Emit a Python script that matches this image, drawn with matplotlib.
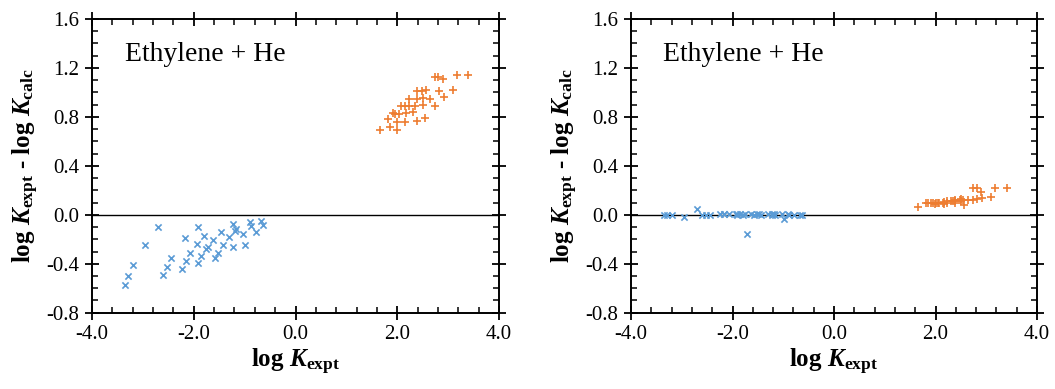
import matplotlib
matplotlib.use('Agg')
import matplotlib.pyplot as plt
from matplotlib.ticker import MultipleLocator, FormatStrFormatter

plt.rcParams['font.family'] = ['Liberation Serif', 'DejaVu Serif']
plt.rcParams['mathtext.fontset'] = 'custom'
plt.rcParams['mathtext.rm'] = 'Liberation Serif:bold'
plt.rcParams['mathtext.it'] = 'Liberation Serif:italic:bold'
plt.rcParams['mathtext.bf'] = 'Liberation Serif:bold'

# blue series (x markers): log K_expt, deviation before / after correction
blue_x = [-3.35, -3.29, -3.20, -2.96, -2.70, -2.60, -2.53, -2.45, -2.24, -2.17,
          -2.16, -2.07, -1.94, -1.91, -1.91, -1.85, -1.79, -1.75, -1.72, -1.63,
          -1.58, -1.52, -1.47, -1.43, -1.30, -1.22, -1.22, -1.19, -1.16, -1.03,
          -0.99, -0.90, -0.88, -0.78, -0.67, -0.63]
blue_left = [-0.57, -0.50, -0.41, -0.25, -0.10, -0.49, -0.43, -0.355, -0.445, -0.19,
             -0.38, -0.31, -0.235, -0.10, -0.39, -0.34, -0.17, -0.28, -0.26, -0.21,
             -0.355, -0.31, -0.14, -0.246, -0.18, -0.077, -0.26, -0.13, -0.12, -0.153,
             -0.25, -0.055, -0.09, -0.137, -0.049, -0.082]
blue_right = [0.0, 0.0, 0.0, -0.015, 0.045, -0.005, 0.0, -0.005, 0.01, 0.01,
              0.005, 0.01, 0.005, 0.005, 0.0, 0.005, 0.0, 0.005, -0.16, 0.005,
              0.0, 0.005, 0.005, 0.0, 0.005, 0.005, 0.0, 0.005, 0.0, 0.005,
              -0.035, 0.005, 0.0, 0.0, 0.0, 0.0]

# orange series (+ markers)
orange_x = [1.66, 1.82, 1.85, 1.91, 1.95, 1.99, 2.00, 2.04, 2.07, 2.15,
            2.16, 2.17, 2.23, 2.23, 2.31, 2.35, 2.38, 2.39, 2.39, 2.48,
            2.50, 2.51, 2.54, 2.57, 2.64, 2.74, 2.74, 2.81, 2.82, 2.89,
            2.92, 3.09, 3.18, 3.40]
orange_left = [0.694, 0.78, 0.716, 0.83, 0.825, 0.69, 0.757, 0.825, 0.893, 0.893,
               0.762, 0.83, 0.893, 0.948, 0.84, 0.885, 0.948, 0.77, 1.01, 1.01,
               0.90, 0.956, 0.79, 1.02, 0.948, 0.885, 1.125, 1.13, 1.008, 1.107,
               0.96, 1.016, 1.14, 1.14]
orange_right = [0.066, 0.10, 0.095, 0.10, 0.095, 0.09, 0.10, 0.095, 0.10, 0.10,
                0.09, 0.105, 0.11, 0.10, 0.11, 0.11, 0.115, 0.10, 0.12, 0.12,
                0.11, 0.13, 0.12, 0.08, 0.12, 0.12, 0.22, 0.22, 0.13, 0.19,
                0.14, 0.147, 0.22, 0.22]

label_text = 'Ethylene + He'
blue = '#5b9bd5'
orange = '#ed7d31'

W, H = 1055, 389
fig = plt.figure(figsize=(W / 100, H / 100), dpi=100)
ax1 = fig.add_axes([92 / W, (H - 312.7) / H, 407 / W, 293.7 / H])
ax2 = fig.add_axes([631 / W, (H - 312.7) / H, 406 / W, 293.7 / H])

for ax, yb, yo in [(ax1, blue_left, orange_left), (ax2, blue_right, orange_right)]:
    ax.axhline(0, color='black', lw=1.0, zorder=1)
    ax.scatter(blue_x, yb, marker='x', s=20, c=blue, linewidths=1.2, zorder=3)
    ax.scatter(orange_x, yo, marker='+', s=40, c=orange, linewidths=1.2, zorder=3)
    ax.set_xlim(-4, 4)
    ax.set_ylim(-0.8, 1.6)
    ax.xaxis.set_major_locator(MultipleLocator(2.0))
    ax.xaxis.set_minor_locator(MultipleLocator(0.4))
    ax.yaxis.set_major_locator(MultipleLocator(0.4))
    ax.yaxis.set_minor_locator(MultipleLocator(0.1))
    ax.xaxis.set_major_formatter(FormatStrFormatter('%.1f'))
    ax.yaxis.set_major_formatter(FormatStrFormatter('%.1f'))
    ax.tick_params(which='major', direction='inout', length=10, width=1.3,
                   top=True, right=True, labelsize=15, pad=4)
    ax.tick_params(which='minor', direction='in', length=4, width=1.1,
                   top=True, right=True)
    for sp in ax.spines.values():
        sp.set_linewidth(1.4)
    ax.set_xlabel(r'$\mathrm{log}\ \mathit{K}_{\mathrm{expt}}$', fontsize=18, labelpad=2)
    ax.set_ylabel(r'$\mathrm{log}\ \mathit{K}_{\mathrm{expt}}$ - $\mathrm{log}\ \mathit{K}_{\mathrm{calc}}$',
                  fontsize=18, fontweight='bold', labelpad=4)
    ax.text(0.08, 0.88, label_text, transform=ax.transAxes, fontsize=20,
            ha='left', va='center')

fig.savefig('out.png', dpi=100)
